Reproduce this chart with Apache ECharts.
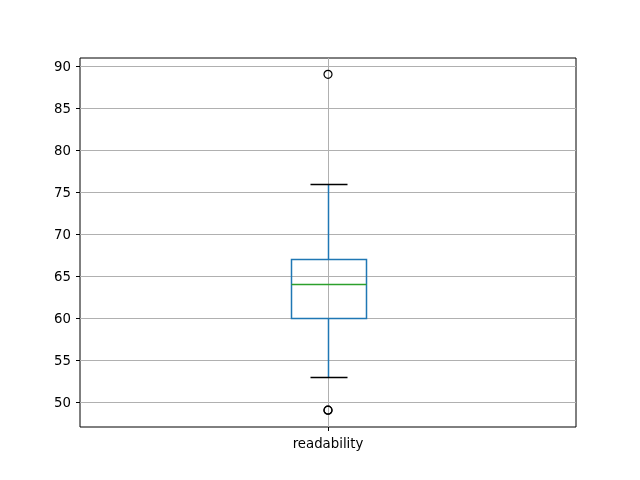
<!DOCTYPE html>
<html>
<head>
<meta charset="utf-8">
<script src="https://cdn.jsdelivr.net/npm/echarts@6/dist/echarts.min.js"></script>
<style>html,body{margin:0;padding:0;background:#fff;}#c{width:640px;height:480px;}</style>
</head>
<body>
<div id="c"></div>
<script>
// Data
const categories = ['readability'];
// [lower whisker, Q1, median, Q3, upper whisker]
const boxStats = [[53, 60, 64, 67, 76]];
// [category index, value]
const outliers = [[0, 89], [0, 49], [0, 49]];
const yTicks = [50, 55, 60, 65, 70, 75, 80, 85, 90];

const chart = echarts.init(document.getElementById('c'), null, {renderer: 'canvas'});
const font = 'DejaVu Sans';
const crisp = v => Math.round(v) + 0.5;

const boxData = boxStats.map((s, i) => [i + 1].concat(s));
const outlierData = outliers.map(o => [o[0] + 1, o[1]]);

chart.setOption({
  animation: false,
  backgroundColor: '#fff',
  grid: {left: 80, right: 64, top: 58, bottom: 53, show: true, borderColor: '#000', borderWidth: 1, backgroundColor: 'transparent'},
  xAxis: {
    type: 'value', min: 0.5, max: categories.length + 0.5,
    axisLine: {show: false},
    axisTick: {show: true, length: 4, lineStyle: {color: '#000'}, customValues: categories.map((c, i) => i + 1)},
    axisLabel: {show: true, customValues: categories.map((c, i) => i + 1), formatter: v => categories[Math.round(v) - 1] || '', color: '#000', fontFamily: font, fontSize: 13.3, margin: 11},
    splitLine: {show: false}
  },
  yAxis: {
    type: 'value', min: 47, max: 90.95,
    axisLine: {show: false},
    axisTick: {show: true, length: 4, lineStyle: {color: '#000'}, customValues: yTicks},
    axisLabel: {
      show: true, customValues: yTicks, margin: 9,
      formatter: v => '{a|' + v + '}',
      rich: {a: {color: '#000', fontFamily: font, fontSize: 13.3, padding: [4, 0, 0, 0]}}
    },
    splitLine: {show: false}
  },
  series: [
    {
      type: 'line', data: [], silent: true, z: 1,
      markLine: {
        silent: true, symbol: 'none', animation: false, z: 1,
        label: {show: false},
        lineStyle: {color: '#b0b0b0', width: 1, type: 'solid'},
        data: yTicks.map(t => ({yAxis: t})).concat(categories.map((c, i) => ({xAxis: i + 1})))
      }
    },
    {
      type: 'custom', z: 10,
      data: boxData,
      renderItem: function (params, api) {
        const x = api.value(0);
        const lo = api.value(1), q1 = api.value(2), med = api.value(3), q3 = api.value(4), hi = api.value(5);
        const w = api.size([0.15, 0])[0];
        const cw = w / 2;
        const cx = crisp(api.coord([x, med])[0]);
        const yLo = crisp(api.coord([x, lo])[1]);
        const yQ1 = crisp(api.coord([x, q1])[1]);
        const yMed = crisp(api.coord([x, med])[1]);
        const yQ3 = crisp(api.coord([x, q3])[1]);
        const yHi = crisp(api.coord([x, hi])[1]);
        const bx0 = crisp(cx - w / 2), bx1 = crisp(cx + w / 2);
        const cx0 = crisp(cx - cw / 2), cx1 = crisp(cx + cw / 2);
        const blue = '#1f77b4';
        return {
          type: 'group',
          children: [
            {type: 'line', shape: {x1: cx, y1: yQ1, x2: cx, y2: yLo}, style: {stroke: blue, lineWidth: 1.5}},
            {type: 'line', shape: {x1: cx, y1: yQ3, x2: cx, y2: yHi}, style: {stroke: blue, lineWidth: 1.5}},
            {type: 'rect', shape: {x: bx0, y: yQ3, width: bx1 - bx0, height: yQ1 - yQ3}, style: {fill: null, stroke: blue, lineWidth: 1.5}},
            {type: 'line', shape: {x1: bx0, y1: yMed, x2: bx1, y2: yMed}, style: {stroke: '#2ca02c', lineWidth: 1.5}},
            {type: 'line', shape: {x1: cx0, y1: yLo, x2: cx1, y2: yLo}, style: {stroke: '#000', lineWidth: 1.5}},
            {type: 'line', shape: {x1: cx0, y1: yHi, x2: cx1, y2: yHi}, style: {stroke: '#000', lineWidth: 1.5}}
          ]
        };
      }
    },
    {
      type: 'scatter',
      data: outlierData,
      symbol: 'circle', symbolSize: 8,
      itemStyle: {color: 'rgba(0,0,0,0)', borderColor: '#000', borderWidth: 1.2, opacity: 1},
      z: 11
    }
  ]
});
</script>
</body>
</html>
